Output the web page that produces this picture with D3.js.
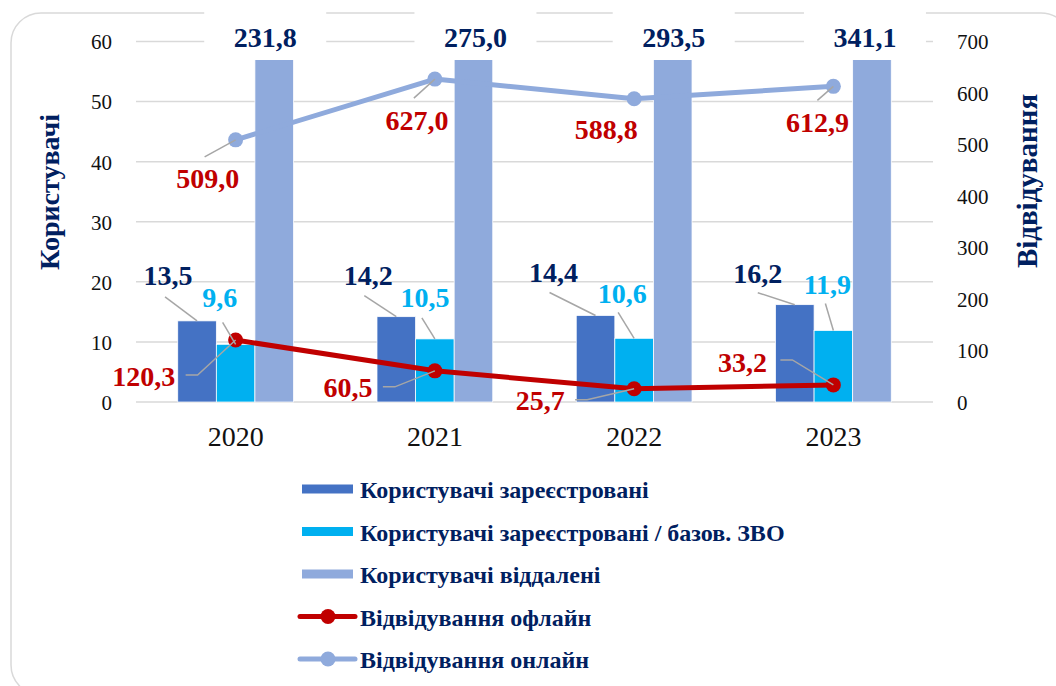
<!DOCTYPE html>
<html>
<head>
<meta charset="utf-8">
<script src="https://cdn.jsdelivr.net/npm/d3@7"></script>
<style>
  body { margin: 0; background: #fff; }
  svg { display: block; }
  text { font-family: "Liberation Serif", "Times New Roman", serif; }
</style>
</head>
<body>
<svg id="chart" width="1056" height="686"></svg>
<script>
const years = ["2020", "2021", "2022", "2023"];
const registered = [13.5, 14.2, 14.4, 16.2];
const registeredBase = [9.6, 10.5, 10.6, 11.9];
const remote = [231.8, 275.0, 293.5, 341.1];
const visitsOffline = [120.3, 60.5, 25.7, 33.2];
const visitsOnline = [509.0, 627.0, 588.8, 612.9];
const leftTicks = [0, 10, 20, 30, 40, 50, 60];
const rightTicks = [0, 100, 200, 300, 400, 500, 600, 700];
const legendNames = [
  "Користувачі зареєстровані",
  "Користувачі зареєстровані / базов. ЗВО",
  "Користувачі віддалені",
  "Відвідування офлайн",
  "Відвідування онлайн",
];
const leftTitle = "Користувачі";
const rightTitle = "Відвідування";

// label placement (offsets from the anchor: text centre dx, baseline dy, leader start)
const regLabelPos = [[-29, -36, -32, -24], [-28, -32, -32, -21], [-42, -33, -46, -23], [-37, -22, -37, -12]];
const baseLabelPos = [[-16, -37, -13, -22], [-10, -32, -13, -21], [-12, -35, -16, -26], [-6, -37, -8, -27]];
const remoteLabelDx = [-9, 2, 1, -7];
const onlineLabelPos = [[-28, 48, -31, 17], [-18, 51, -21, 19], [-28, 40, null, null], [-16, 46, -16, 14]];
const offlineLabelPos = [[-92, 46, -50, 35], [-87, 26, -52, 16], [-94, 21, -59, 11], [-91, -13, -53, -25]];

const colors = {
  reg: "#4472C4",
  base: "#00B0F0",
  remote: "#8FAADC",
  offline: "#C00000",
  online: "#8FAADC",
  navy: "#002060",
  leader: "#A6A6A6",
  grid: "#D9D9D9",
};

const fmt = (v) => d3.format(".1f")(v).replace(".", ",");

const svg = d3.select("#chart");

// outer rounded frame
svg.append("rect")
  .attr("x", 11).attr("y", 13)
  .attr("width", 1060).attr("height", 682)
  .attr("rx", 30)
  .attr("fill", "#fff")
  .attr("stroke", colors.grid)
  .attr("stroke-width", 1.5);

const plot = { left: 136, right: 933, top: 41.5, bottom: 402 };

const x0 = d3.scaleBand()
  .domain(years)
  .range([plot.left, plot.right])
  .paddingInner(0.419)
  .paddingOuter(0.2095);
const x1 = d3.scaleBand()
  .domain(["reg", "base", "remote"])
  .range([0, x0.bandwidth()]);
const yL = d3.scaleLinear().domain([0, 60]).range([plot.bottom, plot.top]);
const yR = d3.scaleLinear().domain([0, 700]).range([plot.bottom, plot.top]);
const cx = (i) => x0(years[i]) + x0.bandwidth() / 2;

// gridlines
svg.append("g")
  .selectAll("line")
  .data(leftTicks)
  .join("line")
  .attr("x1", plot.left).attr("x2", plot.right)
  .attr("y1", (d) => yL(d)).attr("y2", (d) => yL(d))
  .attr("stroke", colors.grid)
  .attr("stroke-width", 1.5);

// axes
const axisL = svg.append("g")
  .attr("transform", `translate(${plot.left},0)`)
  .call(d3.axisLeft(yL).tickValues(leftTicks).tickSize(0).tickPadding(24));
const axisR = svg.append("g")
  .attr("transform", `translate(${plot.right},0)`)
  .call(d3.axisRight(yR).tickValues(rightTicks).tickSize(0).tickPadding(24));
const axisX = svg.append("g")
  .attr("transform", `translate(0,${plot.bottom})`)
  .call(d3.axisBottom(x0).tickSize(0).tickPadding(24));
[axisL, axisR, axisX].forEach((g) => {
  g.attr("font-family", null);
  g.select(".domain").remove();
  g.selectAll("text").attr("fill", "#111");
});
axisL.selectAll("text").style("font-size", "21px").attr("dy", "0.35em");
axisR.selectAll("text").style("font-size", "21px").attr("dy", "0.35em");
axisX.selectAll("text").style("font-size", "28px").attr("dy", "0.71em");

// axis titles
svg.append("text")
  .attr("transform", "translate(59,192) rotate(-90)")
  .attr("text-anchor", "middle")
  .attr("fill", colors.navy)
  .style("font-size", "28px")
  .style("font-weight", "bold")
  .text(leftTitle);
svg.append("text")
  .attr("transform", "translate(1037,181) rotate(-90)")
  .attr("text-anchor", "middle")
  .attr("fill", colors.navy)
  .style("font-size", "29px")
  .style("font-weight", "bold")
  .text(rightTitle);

// bars
const clipTop = (v) => Math.min(v, 60);
const barSeries = [
  { key: "reg", values: registered, color: colors.reg },
  { key: "base", values: registeredBase, color: colors.base },
  { key: "remote", values: remote, color: colors.remote },
];
barSeries.forEach((s) => {
  svg.append("g")
    .selectAll("rect")
    .data(s.values)
    .join("rect")
    .attr("x", (d, i) => x0(years[i]) + x1(s.key))
    .attr("width", x1.bandwidth())
    .attr("y", (d) => yL(clipTop(d)))
    .attr("height", (d) => yL(0) - yL(clipTop(d)))
    .attr("fill", s.color)
    .attr("stroke", "#fff")
    .attr("stroke-width", 0.75);
});

// lines
const lineSeries = [
  { values: visitsOnline, color: colors.online },
  { values: visitsOffline, color: colors.offline },
];
lineSeries.forEach((s) => {
  const line = d3.line()
    .x((d, i) => cx(i))
    .y((d) => yR(d));
  svg.append("path")
    .datum(s.values)
    .attr("fill", "none")
    .attr("stroke", s.color)
    .attr("stroke-width", 5)
    .attr("stroke-linejoin", "round")
    .attr("d", line);
  svg.append("g")
    .selectAll("circle")
    .data(s.values)
    .join("circle")
    .attr("cx", (d, i) => cx(i))
    .attr("cy", (d) => yR(d))
    .attr("r", 7.5)
    .attr("fill", s.color);
});

// labels with leader lines
const labels = svg.append("g");
function label(ax, ay, pos, text, color, elbow) {
  const [dx, dy, lx, ly] = pos;
  if (lx !== null) {
    const pts = elbow
      ? [[ax + lx, ay + ly], [ax + lx + 12, ay + ly], [ax, ay]]
      : [[ax + lx, ay + ly], [ax, ay]];
    labels.append("path")
      .attr("d", d3.line()(pts))
      .attr("fill", "none")
      .attr("stroke", colors.leader)
      .attr("stroke-width", 1.5);
  }
  labels.append("text")
    .attr("x", ax + dx)
    .attr("y", ay + dy)
    .attr("text-anchor", "middle")
    .attr("fill", color)
    .style("font-size", "28px")
    .style("font-weight", "bold")
    .text(text);
}

years.forEach((yr, i) => {
  const xr = x0(yr) + x1("reg") + x1.bandwidth() / 2;
  const xb = x0(yr) + x1("base") + x1.bandwidth() / 2;
  label(xr, yL(registered[i]), regLabelPos[i], fmt(registered[i]), colors.navy, false);
  label(xb, yL(registeredBase[i]), baseLabelPos[i], fmt(registeredBase[i]), colors.base, false);
  label(cx(i), yR(visitsOnline[i]), onlineLabelPos[i], fmt(visitsOnline[i]), colors.offline, false);
  label(cx(i), yR(visitsOffline[i]), offlineLabelPos[i], fmt(visitsOffline[i]), colors.offline, true);
});

// remote users labels (off-scale) with white boxes
years.forEach((yr, i) => {
  const xm = x0(yr) + x1("remote") + x1.bandwidth() / 2 + remoteLabelDx[i];
  labels.append("rect")
    .attr("x", xm - 61).attr("y", 6)
    .attr("width", 122).attr("height", 54)
    .attr("fill", "#fff");
  labels.append("text")
    .attr("x", xm)
    .attr("y", plot.top + 5)
    .attr("text-anchor", "middle")
    .attr("fill", colors.navy)
    .style("font-size", "28px")
    .style("font-weight", "bold")
    .text(fmt(remote[i]));
});

// legend
const legend = svg.append("g").attr("transform", "translate(300,489)");
const legendRows = legendNames.map((name, i) => ({
  name,
  type: i < 3 ? "bar" : "line",
  color: [colors.reg, colors.base, colors.remote, colors.offline, colors.online][i],
}));
const row = legend.selectAll("g")
  .data(legendRows)
  .join("g")
  .attr("transform", (d, i) => `translate(0,${i * 42.5})`);
row.filter((d) => d.type === "bar")
  .append("rect")
  .attr("x", 2).attr("y", -4.5)
  .attr("width", 51).attr("height", 9)
  .attr("fill", (d) => d.color);
row.filter((d) => d.type === "line")
  .append("line")
  .attr("x1", 0).attr("x2", 55)
  .attr("stroke", (d) => d.color)
  .attr("stroke-width", 5)
  .attr("stroke-linecap", "round");
row.filter((d) => d.type === "line")
  .append("circle")
  .attr("cx", 28).attr("r", 7.5)
  .attr("fill", (d) => d.color);
row.append("text")
  .attr("x", 60)
  .attr("y", 9)
  .attr("fill", colors.navy)
  .style("font-size", "24px")
  .style("font-weight", "bold")
  .text((d) => d.name);
</script>
</body>
</html>
